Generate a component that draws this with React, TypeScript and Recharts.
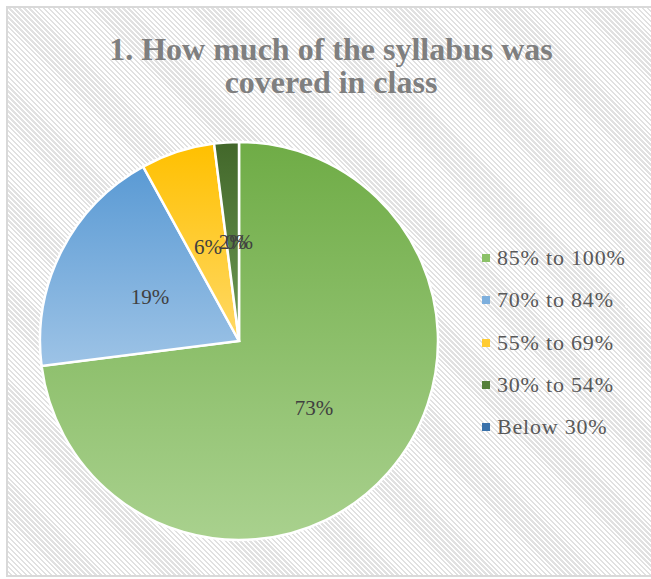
import { PieChart, Pie, Cell, Legend } from "recharts";

const categories = ["85% to 100%", "70% to 84%", "55% to 69%", "30% to 54%", "Below 30%"];
const shares = [73, 19, 6, 2, 0];
const topColors = ["#6FAC46", "#5A9AD4", "#FFC000", "#42672A", "#245C8F"];
const bottomColors = ["#A9D18E", "#9DC3E6", "#FFD966", "#6E9A55", "#4A86C5"];
const legendColors = ["#8BC168", "#7DAFDD", "#FFCC33", "#557F3B", "#3A72AB"];

const data = categories.map((name, i) => ({ name, value: shares[i] }));

const RADIAN = Math.PI / 180;

const renderLabel = (props: any) => {
  const { cx, cy, midAngle, value } = props;
  const r = 100;
  const x = cx + r * Math.cos(-midAngle * RADIAN);
  const y = cy + r * Math.sin(-midAngle * RADIAN);
  return (
    <text
      x={x}
      y={y + 1}
      fill="#404040"
      textAnchor="middle"
      dominantBaseline="central"
      fontFamily="'Liberation Serif', serif"
      fontSize={21}
    >
      {value}%
    </text>
  );
};

const renderLegend = () => (
  <div>
    {categories.map((name, i) => (
      <div
        key={name}
        style={{ display: "flex", alignItems: "center", height: 42.3 }}
      >
        <span
          style={{
            width: 8,
            height: 8,
            background: legendColors[i],
            marginRight: 7,
            display: "inline-block",
          }}
        />
        <span
          style={{
            fontFamily: "'Liberation Serif', serif",
            fontSize: 22,
            letterSpacing: 0.8,
            color: "#595959",
            whiteSpace: "pre",
          }}
        >
          {name}
        </span>
      </div>
    ))}
  </div>
);

const App = () => {
  return (
    <div
      style={{
        position: "absolute",
        left: 0,
        top: 0,
        width: 651,
        height: 579,
        background: "#fff",
        overflow: "hidden",
      }}
    >
      <div
        style={{
          position: "absolute",
          left: 6,
          top: 6,
          width: 660,
          height: 571,
          boxSizing: "border-box",
          border: "2px solid #d9d9d9",
          background:
            "repeating-linear-gradient(45deg, #ffffff 0px, #ffffff 1.8px, #e1e1e1 1.8px, #e1e1e1 3.5px)",
        }}
      />
      <div
        style={{
          position: "absolute",
          left: 6,
          top: 33,
          width: 650,
          textAlign: "center",
          fontFamily: "'Liberation Serif', serif",
          fontWeight: "bold",
          fontSize: 32,
          lineHeight: "33px",
          color: "#7f7f7f",
        }}
      >
        1. How much of the syllabus was
        <br />
        covered in class
      </div>
      <div style={{ position: "absolute", left: 0, top: 0 }}>
        <PieChart
          width={651}
          height={579}
          margin={{ top: 0, right: 0, bottom: 0, left: 0 }}
        >
          <defs>
            {categories.map((name, i) => (
              <linearGradient key={name} id={`grad${i}`} x1="0" y1="0" x2="0" y2="1">
                <stop offset="0%" stopColor={topColors[i]} />
                <stop offset="100%" stopColor={bottomColors[i]} />
              </linearGradient>
            ))}
          </defs>
          <Pie
            data={data}
            dataKey="value"
            nameKey="name"
            cx={239}
            cy={341}
            outerRadius={199}
            startAngle={90}
            endAngle={-270}
            stroke="#ffffff"
            strokeWidth={2.5}
            label={renderLabel}
            labelLine={false}
            isAnimationActive={false}
          >
            {data.map((d, i) => (
              <Cell key={d.name} fill={`url(#grad${i})`} />
            ))}
          </Pie>
          <Legend
            content={renderLegend}
            wrapperStyle={{ position: "absolute", left: 482, top: 237, width: 170 }}
          />
        </PieChart>
      </div>
    </div>
  );
};

export default App;
